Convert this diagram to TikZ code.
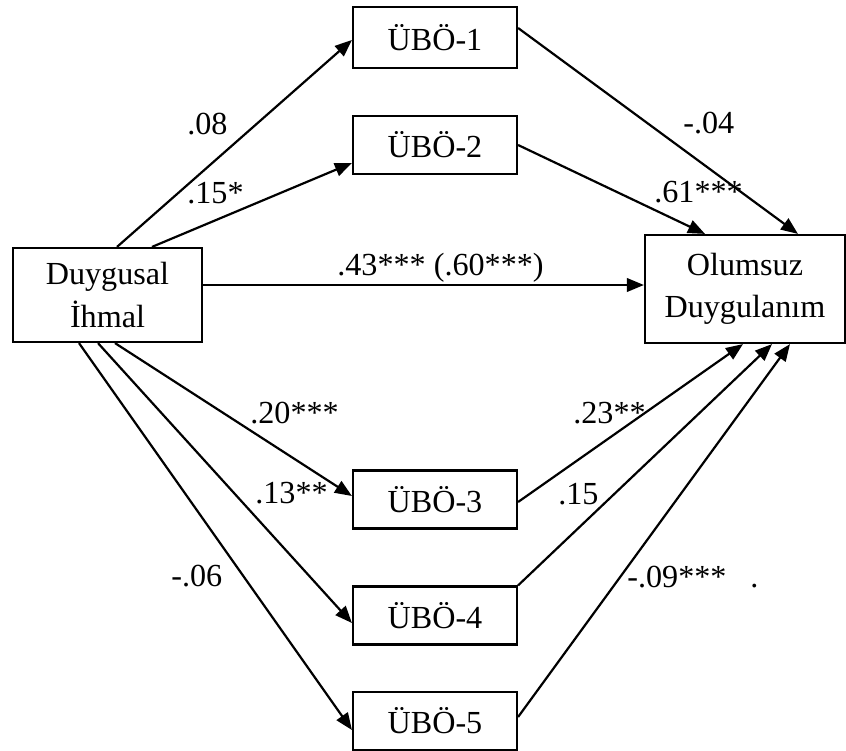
\documentclass[tikz,border=0pt]{standalone}
\usepackage{fontspec}
\setmainfont{Liberation Serif}
\usepackage{tikz}
\usetikzlibrary{arrows.meta,positioning}
\newcommand{\pathfont}{\fontsize{18.3pt}{24pt}\selectfont}
\tikzset{
  varbox/.style={draw,line width=1.25pt,inner sep=0pt,align=center,
    minimum width=3.28cm,minimum height=1.16cm,font=\pathfont},
  patharrow/.style={-{Triangle[length=0.34cm,width=0.27cm]},line width=1.25pt},
  coef/.style={anchor=base west,inner sep=0pt,font=\pathfont}
}

\begin{document}
\begin{tikzpicture}[x=0.02cm,y=-0.02cm]
  \useasboundingbox (0,0) rectangle (846,751);
  % variables
  \node[varbox,minimum width=3.78cm,minimum height=1.88cm] (duyg) at (107.5,295) {Duygusal\\İhmal};
  \node[varbox,minimum width=4cm,minimum height=2.16cm] (olum) at (745,289) {Olumsuz\\Duygulanım};
  \node[varbox,minimum height=1.22cm] (ubo1) at (435,37.5) {ÜBÖ-1};
  \node[varbox] (ubo2) at (435,145) {ÜBÖ-2};
  \node[varbox] (ubo3) at (435,499.5) {ÜBÖ-3};
  \node[varbox] (ubo4) at (435,615.5) {ÜBÖ-4};
  \node[varbox] (ubo5) at (435,721) {ÜBÖ-5};
  % a paths
  \draw[patharrow] ([xshift=0.19cm]duyg.north) -- ([yshift=-0.05cm]ubo1.west);
  \draw[patharrow] ([xshift=0.89cm]duyg.north) -- ([yshift=-0.36cm]ubo2.west);
  \draw[patharrow] ([xshift=0.15cm]duyg.south) -- ([yshift=0.07cm]ubo3.west);
  \draw[patharrow] ([xshift=-0.19cm]duyg.south) -- ([yshift=-0.15cm]ubo4.west);
  \draw[patharrow] ([xshift=-0.57cm]duyg.south) -- ([yshift=-0.18cm]ubo5.west);
  % b paths
  \draw[patharrow] ([yshift=0.19cm]ubo1.east) -- ([xshift=1.06cm]olum.north);
  \draw[patharrow] (ubo2.east) -- ([xshift=-0.8cm]olum.north);
  \draw[patharrow] ([yshift=-0.05cm]ubo3.east) -- ([xshift=-0.04cm]olum.south);
  \draw[patharrow] (ubo4.north east) -- ([xshift=0.54cm]olum.south);
  \draw[patharrow] ([yshift=0.08cm]ubo5.east) -- ([xshift=0.9cm]olum.south);
  % c path
  \draw[patharrow] ([yshift=0.2cm]duyg.east) -- ([yshift=0.2cm]duyg.east -| olum.west);
  % coefficients
  \node[coef] (a1) at (187,134) {.08};
  \node[coef] (a2) at (187,203) {.15*};
  \node[coef] (a3) at (250,423) {.20***};
  \node[coef] (a4) at (255,503) {.13**};
  \node[coef] (a5) at (171,586) {-.06};
  \node[coef] (b1) at (683,133) {-.04};
  \node[coef] (b2) at (654,202) {.61***};
  \node[coef] (b3) at (573,423) {.23**};
  \node[coef] (b4) at (558,504) {.15};
  \node[coef] (b5) at (627,587) {-.09***};
  \node[coef] (dot) at (750,587) {.};
  \node[coef] (c) at (337,275) {.43*** (.60***)};
\end{tikzpicture}
\end{document}
